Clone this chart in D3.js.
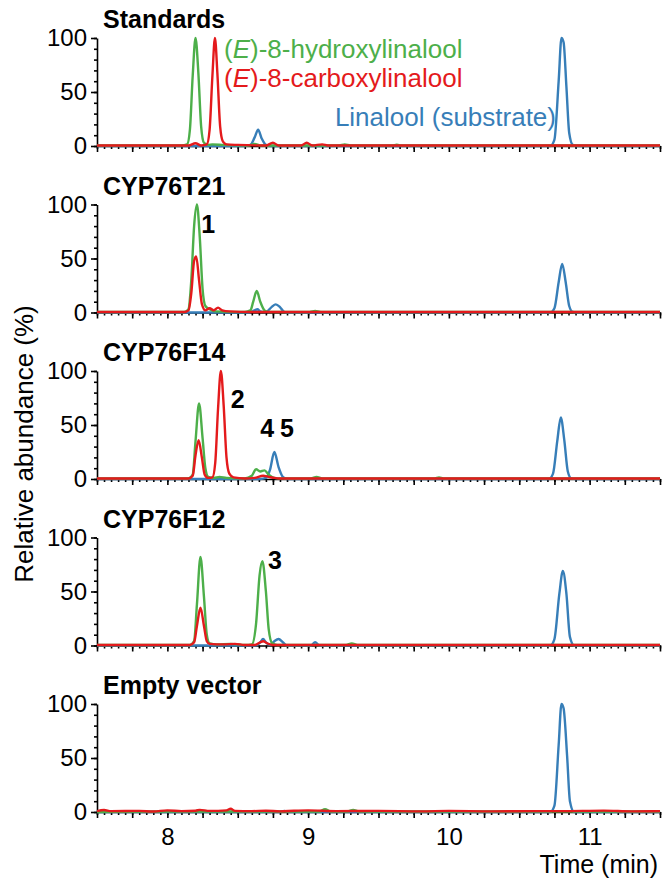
<!DOCTYPE html>
<html>
<head>
<meta charset="utf-8">
<script src="https://cdn.jsdelivr.net/npm/d3@7"></script>
<style>
  body { margin: 0; background: #fff; }
  svg { font-family: "Liberation Sans", Arial, sans-serif; }
  .axis path, .axis line { stroke: #000; stroke-width: 1.6; }
  .trace { fill: none; stroke-width: 2.4; stroke-linejoin: round; }
</style>
</head>
<body>
<svg width="662" height="884"></svg>
<script>
// retention time (min), relative abundance (%)
const stdGreen = [[7.5,0.5],[8.10,0.5],[8.14,1.5],[8.16,15],[8.18,65],[8.20,100],[8.22,68],[8.24,18],[8.26,3],[8.29,1],[8.32,1.5],[8.40,1],[8.58,0.5],[8.62,2],[8.66,0.5],[9.22,0.5],[9.26,1.5],[9.30,0.5],[9.60,0.5],[9.63,1.2],[9.66,0.5],[11.5,0.5]]
const stdRed = [[7.5,0.5],[8.15,0.5],[8.20,2.5],[8.24,0.5],[8.28,1.5],[8.30,15],[8.32,65],[8.338,100],[8.355,68],[8.375,18],[8.395,4],[8.42,1.5],[8.5,1],[8.7,0.5],[8.75,3],[8.79,0.5],[8.95,0.5],[8.99,3],[9.03,0.5],[9.1,1.5],[9.14,0.5],[11.5,0.5]]
const stdBlue = [[7.5,0],[8.55,0],[8.59,1],[8.62,8],[8.645,15],[8.67,7],[8.70,1],[8.73,0],[10.72,0],[10.75,6],[10.78,60],[10.80,100],[10.815,96],[10.835,55],[10.855,12],[10.88,1],[10.91,0],[11.5,0]]

const t21Green = [[7.5,0.5],[8.12,0.5],[8.15,3],[8.17,30],[8.19,80],[8.21,100],[8.23,70],[8.25,22],[8.27,6],[8.30,3],[8.34,1],[8.55,0.5],[8.59,2],[8.61,10],[8.635,20],[8.66,10],[8.69,2],[8.72,0.5],[9.01,0.5],[9.05,1.5],[9.09,0.5],[11.5,0.5]]
const t21Red = [[7.5,0.5],[8.12,0.5],[8.15,2],[8.17,18],[8.19,48],[8.205,52],[8.225,30],[8.245,8],[8.27,2],[8.30,4],[8.33,2],[8.36,4.5],[8.39,2],[8.44,1],[8.6,0.5],[11.5,0.5]]
const t21Blue = [[7.5,0],[8.58,0],[8.62,2],[8.64,3],[8.66,1],[8.70,0.5],[8.74,5],[8.77,7.5],[8.80,5],[8.83,0.5],[8.86,0],[10.72,0],[10.75,4],[10.78,28],[10.805,45],[10.83,28],[10.855,6],[10.88,0.5],[10.91,0],[11.5,0]]

const f14Green = [[7.5,0.5],[8.15,0.5],[8.18,4],[8.20,35],[8.225,70],[8.25,38],[8.27,10],[8.29,2],[8.33,1],[8.37,2],[8.42,1],[8.55,0.5],[8.60,3],[8.63,9],[8.66,7],[8.69,8],[8.72,4],[8.76,1],[8.8,0.5],[9.02,0.5],[9.06,2],[9.1,0.5],[9.9,0.5],[9.93,1.5],[9.96,0.5],[11.5,0.5]]
const f14Red = [[7.5,0.5],[8.15,0.5],[8.18,3],[8.20,22],[8.222,36],[8.245,20],[8.265,4],[8.29,1],[8.32,1.5],[8.34,15],[8.36,65],[8.38,100],[8.40,68],[8.42,20],[8.44,5],[8.47,1.5],[8.55,0.5],[8.62,1],[8.68,3],[8.72,2],[8.76,1],[8.8,0.5],[11.5,0.5]]
const f14Blue = [[7.5,0],[8.66,0],[8.70,1],[8.73,9],[8.76,25],[8.79,11],[8.82,2],[8.85,0],[10.71,0],[10.74,5],[10.77,35],[10.795,57],[10.82,36],[10.845,7],[10.87,0.5],[10.9,0],[11.5,0]]

const f12Green = [[7.5,0.5],[8.16,0.5],[8.19,4],[8.21,38],[8.235,82],[8.26,45],[8.28,10],[8.30,2],[8.35,1],[8.45,1.5],[8.55,0.5],[8.60,1],[8.63,20],[8.655,65],[8.675,78],[8.70,50],[8.72,15],[8.745,2],[8.78,0.5],[9.27,0.5],[9.31,2],[9.35,0.5],[11.5,0.5]]
const f12Red = [[7.5,0.5],[8.16,0.5],[8.19,3],[8.21,18],[8.235,35],[8.26,18],[8.28,4],[8.30,1.5],[8.4,1],[8.48,1.5],[8.55,0.5],[8.62,0.5],[8.66,3],[8.68,4],[8.71,2],[8.75,0.5],[11.5,0.5]]
const f12Blue = [[7.5,0],[8.62,0],[8.66,3],[8.68,6],[8.70,3],[8.73,0.5],[8.76,4],[8.79,6],[8.82,3],[8.85,0],[9.02,0],[9.05,3],[9.08,0],[10.72,0],[10.75,6],[10.785,48],[10.81,69],[10.835,48],[10.86,8],[10.89,0],[11.5,0]]

const evGreen = [[7.5,0],[8.0,0.5],[8.5,0.5],[9.08,0.5],[9.12,2.5],[9.16,0.5],[9.28,0.5],[9.32,2],[9.36,0.5],[11.5,0.5]]
const evRed = [[7.5,0.8],[7.55,1.8],[7.6,0.8],[7.8,1],[7.9,0.5],[8.0,1.5],[8.1,0.8],[8.2,1.2],[8.23,2],[8.3,1],[8.42,1.5],[8.45,3],[8.48,1],[8.6,0.8],[8.7,1.2],[8.8,0.6],[8.9,1.2],[9.0,1.5],[9.2,0.8],[9.5,1],[9.8,0.6],[10.0,1],[10.3,0.6],[10.6,0.8],[10.8,0.8],[11.1,1.3],[11.3,0.6],[11.5,0.8]]
const evBlue = [[7.5,0],[8.8,0],[8.83,1],[8.86,0],[10.72,0],[10.75,6],[10.78,62],[10.80,100],[10.815,96],[10.84,52],[10.86,10],[10.89,0],[11.5,0]]

const panelNames = ['Standards', 'CYP76T21', 'CYP76F14', 'CYP76F12', 'Empty vector']
const panelTraces = [
  [stdBlue, stdGreen, stdRed],
  [t21Blue, t21Green, t21Red],
  [f14Blue, f14Green, f14Red],
  [f12Blue, f12Green, f12Red],
  [evBlue, evGreen, evRed]
]
// peak labels: panel index, time, abundance at label baseline
const peakLabels = [
  { panel: 1, text: '1', t: 8.29, y: 74 },
  { panel: 2, text: '2', t: 8.50, y: 66 },
  { panel: 2, text: '4', t: 8.71, y: 39 },
  { panel: 2, text: '5', t: 8.85, y: 39 },
  { panel: 3, text: '3', t: 8.765, y: 71 }
]
const traceColors = ['#377eb8', '#4daf4a', '#e41a1c']
const xTicksLabelled = [8, 9, 10, 11]

const svg = d3.select('svg')
const x = d3.scaleLinear().domain([7.5, 11.5]).range([97, 660])
const panelTop = i => 38 + i * 166.5
const panelH = 108

const line = d3.line().curve(d3.curveMonotoneX)

panelNames.forEach((name, i) => {
  const top = panelTop(i)
  const y = d3.scaleLinear().domain([0, 100]).range([top + panelH, top])
  const g = svg.append('g')
  const last = i === panelNames.length - 1

  // minor ticks
  g.append('g').attr('class', 'axis')
    .attr('transform', `translate(0,${top + panelH})`)
    .call(d3.axisBottom(x).tickValues(d3.range(7.5, 11.51, 0.05)).tickSize(3).tickFormat(''))
    .call(a => a.select('.domain').remove())
  g.append('g').attr('class', 'axis')
    .attr('transform', `translate(${x(7.5)},0)`)
    .call(d3.axisLeft(y).tickValues(d3.range(0, 101, 10)).tickSize(3).tickFormat(''))
    .call(a => a.select('.domain').remove())

  // major axes
  g.append('g').attr('class', 'axis')
    .attr('transform', `translate(0,${top + panelH})`)
    .call(d3.axisBottom(x).tickValues(d3.range(7.5, 11.51, 0.25)).tickSize(6).tickSizeOuter(0).tickPadding(10)
      .tickFormat(d => last && xTicksLabelled.includes(d) ? d : ''))
    .call(a => a.selectAll('text').attr('font-size', 24).attr('font-family', null).attr('fill', '#000'))
  g.append('g').attr('class', 'axis')
    .attr('transform', `translate(${x(7.5)},0)`)
    .call(d3.axisLeft(y).tickValues([0, 50, 100]).tickSize(6).tickSizeOuter(0).tickPadding(4))
    .call(a => a.selectAll('text').attr('font-size', 24).attr('font-family', null).attr('fill', '#000'))

  panelTraces[i].forEach((tr, k) => {
    g.append('path').attr('class', 'trace')
      .attr('stroke', traceColors[k])
      .attr('d', line(tr.map(d => [x(d[0]), y(d[1])])))
  })

  g.append('text')
    .attr('x', 103).attr('y', top - 10)
    .attr('font-size', 25).attr('font-weight', 'bold')
    .text(name)

  peakLabels.filter(p => p.panel === i).forEach(p => {
    g.append('text')
      .attr('x', x(p.t)).attr('y', y(p.y))
      .attr('text-anchor', 'middle')
      .attr('font-size', 25).attr('font-weight', 'bold')
      .text(p.text)
  })
})

// legend in the standards panel
const legend = svg.append('g').attr('font-size', 26)
const l1 = legend.append('text').attr('x', 224).attr('y', 58).attr('fill', traceColors[1])
l1.append('tspan').text('(')
l1.append('tspan').attr('font-style', 'italic').text('E')
l1.append('tspan').text(')-8-hydroxylinalool')
const l2 = legend.append('text').attr('x', 224).attr('y', 87).attr('fill', traceColors[2])
l2.append('tspan').text('(')
l2.append('tspan').attr('font-style', 'italic').text('E')
l2.append('tspan').text(')-8-carboxylinalool')
legend.append('text').attr('x', 556).attr('y', 126).attr('text-anchor', 'end')
  .attr('fill', traceColors[0]).text('Linalool (substrate)')

// axis titles
svg.append('text')
  .attr('transform', 'translate(33,444) rotate(-90)')
  .attr('text-anchor', 'middle').attr('font-size', 26)
  .text('Relative abundance (%)')
svg.append('text')
  .attr('x', 658).attr('y', 873).attr('text-anchor', 'end').attr('font-size', 25)
  .text('Time (min)')
</script>
</body>
</html>
